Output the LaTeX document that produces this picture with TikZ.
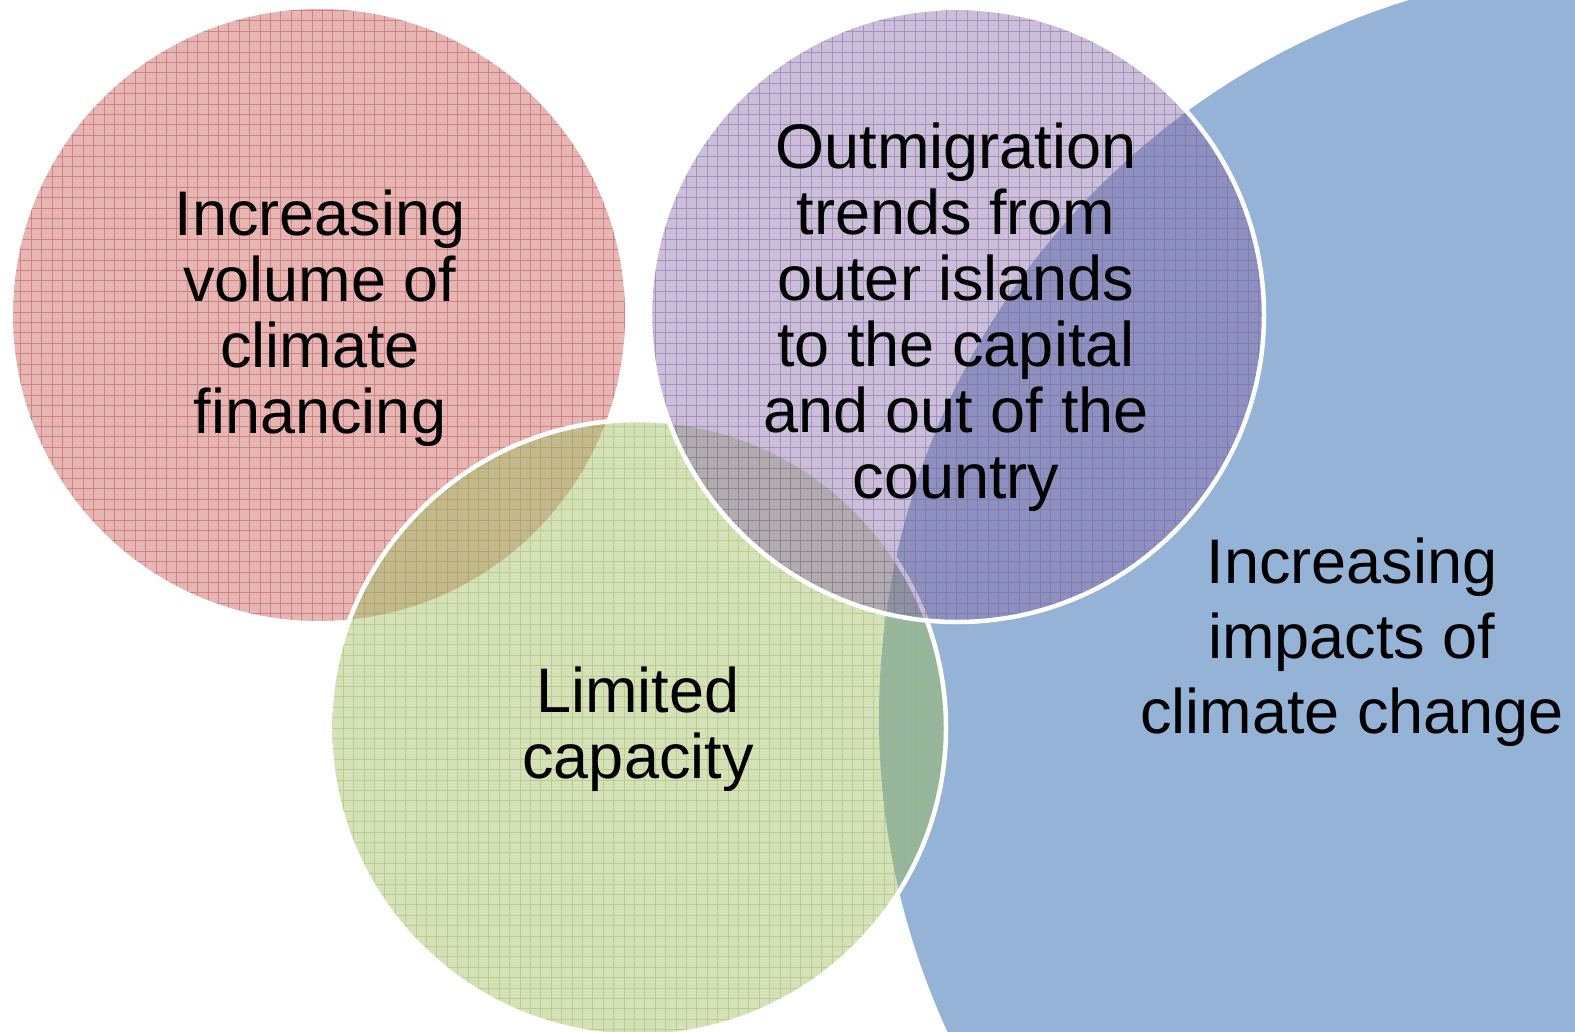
\documentclass[tikz,border=0pt]{standalone}
\usepackage{fontspec}
\setmainfont{Liberation Sans}
\definecolor{redc}{HTML}{C0504D}
\definecolor{purc}{HTML}{8064A2}
\definecolor{grnc}{HTML}{9BBB59}
\definecolor{bluec}{HTML}{95B3D7}
\begin{document}
\begin{tikzpicture}[x=1pt,y=-1pt,
  lbl/.style={align=center, anchor=base, inner sep=0pt, font=\fontsize{63}{66}\selectfont},
  softfill/.style={fill=#1, fill opacity=0.42},
  gridlines/.style={draw=#1, draw opacity=0.5, line width=0.8pt},
  rim/.style={draw=white, line width=4.5pt}]
\useasboundingbox (0,0) rectangle (1575,1032);
\clip (0,0) rectangle (1575,1032);
% blue (bottom)
\fill[bluec] (1630,718) circle (751pt);
% red
\begin{scope}
  \clip (319,315) circle (306pt);
  \fill[softfill=redc] (0,0) rectangle (1575,1032);
  \draw[gridlines=redc, step=10.4pt] (0,0) grid (1575,1032);
\end{scope}
% green
\begin{scope}
  \clip (638,728) circle (308pt);
  \fill[softfill=grnc] (0,0) rectangle (1575,1032);
  \draw[gridlines=grnc, step=10.4pt] (0,0) grid (1575,1032);
\end{scope}
\draw[rim] (638,728) circle (308pt);
% purple
\begin{scope}
  \clip (957,315) circle (307pt);
  \fill[softfill=purc] (0,0) rectangle (1575,1032);
  \draw[gridlines=purc, step=10.4pt] (0,0) grid (1575,1032);
\end{scope}
\draw[rim] (957,315) circle (307pt);
% texts (anchor = baseline of last line)
\node[lbl] (redtxt) at (320,433) {Increasing\\volume of\\climate\\financing};
\node[lbl] (purtxt) at (956,498) {Outmigration\\trends from\\outer islands\\to the capital\\and out of the\\country};
\node[lbl] (grntxt) at (638,778) {Limited\\capacity};
\node[lbl, font=\fontsize{63}{75}\selectfont] (blutxt) at (1352,733) {Increasing\\impacts of\\climate change};
\end{tikzpicture}
\end{document}
